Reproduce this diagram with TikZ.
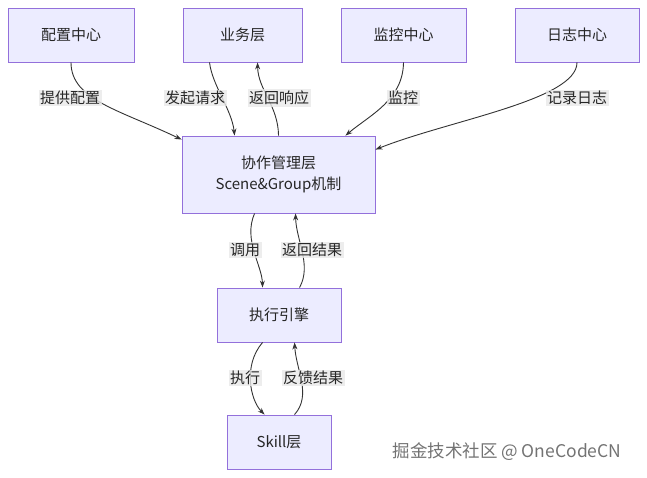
\documentclass[tikz,border=0pt]{standalone}
\usepackage{fontspec}
\setmainfont{Noto Sans CJK SC}
\usetikzlibrary{calc,arrows.meta}
\definecolor{nfill}{HTML}{ECECFF}
\definecolor{nline}{HTML}{9370DB}
\definecolor{lbg}{HTML}{E8E8E8}
\definecolor{edge}{HTML}{333333}
\begin{document}
\begin{tikzpicture}[x=1pt,y=-1pt,
  box/.style={draw=nline,fill=nfill,line width=0.9pt,align=center,font=\fontsize{15}{21}\selectfont,text=black!85,inner sep=0pt},
  lab/.style={fill=lbg,fill opacity=0.8,text opacity=1,font=\fontsize{15}{17}\selectfont,text=black!85,inner sep=1.5pt},
  con/.style={draw=edge,line width=0.9pt,-{Stealth[length=7pt,width=5pt]}}]
\useasboundingbox (0,0) rectangle (647,478);
\node[box,minimum width=126,minimum height=54] (pz) at (71,35) {配置中心};
\node[box,minimum width=119,minimum height=54] (yw) at (242.5,35) {业务层};
\node[box,minimum width=125,minimum height=54] (jk) at (403.5,35) {监控中心};
\node[box,minimum width=124,minimum height=54] (rz) at (577,35) {日志中心};
\node[box,minimum width=193,minimum height=77] (xz) at (278.5,174.5) {协作管理层\\Scene\&Group机制};
\node[box,minimum width=124,minimum height=54] (zx) at (279,315) {执行引擎};
\node[box,minimum width=104,minimum height=54] (sk) at (279,442) {Skill层};
\draw[con] ($(pz.south)$) .. controls (71,100) and (120,110) .. ($(xz.north west)+(0,4)$);
\draw[con] ($(yw.south west)+(27,0)$) .. controls (212,85) and (232,110) .. ($(xz.north west)+(53,0)$);
\draw[con] ($(xz.north west)+(97,0)$) .. controls (278,105) and (258,90) .. ($(yw.south west)+(75,0)$);
\draw[con] (jk.south) .. controls (403,100) and (370,115) .. ($(xz.north east)+(-30,0)$);
\draw[con] (rz.south) .. controls (577,100) and (450,120) .. ($(xz.north east)+(0,14)$);
\draw[con] ($(xz.south west)+(73,0)$) .. controls (243,240) and (262,265) .. ($(zx.north west)+(46,0)$);
\draw[con] ($(zx.north west)+(83,0)$) .. controls (312,265) and (296,240) .. ($(xz.south west)+(114,0)$);
\draw[con] ($(zx.south west)+(46,0)$) .. controls (243,365) and (250,400) .. ($(sk.north west)+(38,0)$);
\draw[con] ($(sk.north west)+(68,0)$) .. controls (312,395) and (296,370) .. ($(zx.south west)+(78,0)$);
\node[lab] (l1) at (70,98) {提供配置};
\node[lab] (l2) at (195,98) {发起请求};
\node[lab] (l3) at (279,98) {返回响应};
\node[lab] (l4) at (403,98) {监控};
\node[lab] (l5) at (577,98) {记录日志};
\node[lab] (l6) at (245,250) {调用};
\node[lab] (l7) at (312,250) {返回结果};
\node[lab] (l8) at (245,378) {执行};
\node[lab] (l9) at (313,378) {反馈结果};
\node[font=\fontsize{17.5}{20}\selectfont,text=black!55] (wm) at (507,452) {掘金技术社区 @ OneCodeCN};
\end{tikzpicture}
\end{document}
